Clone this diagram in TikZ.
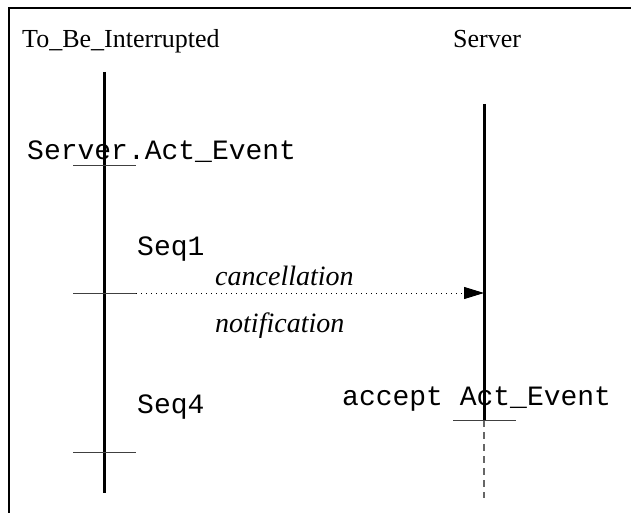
\documentclass[tikz,border=0pt]{standalone}
\usepackage{fontspec}
\setmainfont{Liberation Serif}
\newfontfamily\codefont{Liberation Mono}
\usetikzlibrary{arrows.meta}
\tikzset{
  lbl/.style={anchor=base west, inner sep=0pt, font=\fontsize{26}{30}\selectfont},
  msglbl/.style={lbl, font=\fontsize{28}{32}\selectfont\itshape},
  code/.style={anchor=base west, inner sep=0pt, font=\codefont\fontsize{28}{32}\selectfont},
  lifeline/.style={line width=3pt},
  tick/.style={line width=1pt, black!75},
  future/.style={line width=1.2pt, black!60, dash pattern=on 7pt off 5pt},
  signal/.style={line width=1pt, dash pattern=on 1pt off 4pt, -{Triangle[length=20pt,width=12pt]}},
  frame/.style={line width=1.5pt}
}
\begin{document}
\begin{tikzpicture}[x=1pt,y=-1pt]
  \useasboundingbox (0,0) rectangle (631,513);
  % partial frame
  \coordinate (fbl) at (9,513);
  \coordinate (ftl) at (9,8);
  \coordinate (ftr) at (631,8);
  \draw[frame] (fbl) -- (ftl) -- (ftr);

  % instance headings
  \node[lbl] (hclient) at (22,48) {To\_Be\_Interrupted};
  \node[lbl] (hserver) at (453,48) {Server};

  % lifeline of To_Be_Interrupted
  \coordinate (ctop) at (104,72);
  \coordinate (cbot) at (104,493);
  \draw[lifeline] (ctop) -- (cbot);

  % lifeline of Server
  \coordinate (stop) at (484,104);
  \coordinate (sacc) at (484,420);
  \coordinate (sbot) at (484,498);
  \draw[lifeline] (stop) -- (sacc);
  \draw[future] (sacc) -- (sbot);

  % sequence points on the client
  \coordinate (t1a) at (73,166);  \coordinate (t1b) at (136,166);
  \coordinate (t2a) at (73,293);  \coordinate (t2b) at (136,293);
  \coordinate (t3a) at (73,452);  \coordinate (t3b) at (136,452);
  \draw[tick] (t1a) -- (t1b);
  \draw[tick] (t2a) -- (t2b);
  \draw[tick] (t3a) -- (t3b);

  % acceptance point on the server
  \coordinate (t4a) at (453,420); \coordinate (t4b) at (516,420);
  \draw[tick] (t4a) -- (t4b);

  % cancellation message
  \coordinate (msgend) at (484,293);
  \draw[signal] (t2b) -- (msgend);

  % labels
  \node[code] (call) at (27,160) {Server.Act\_Event};
  \node[code] (seq1) at (137,255) {Seq1};
  \node[msglbl] (canc) at (215,285) {cancellation};
  \node[msglbl] (notif) at (215,332) {notification};
  \node[code] (seq4) at (137,413) {Seq4};
  \node[code] (accept) at (342,405) {accept Act\_Event};
\end{tikzpicture}
\end{document}
